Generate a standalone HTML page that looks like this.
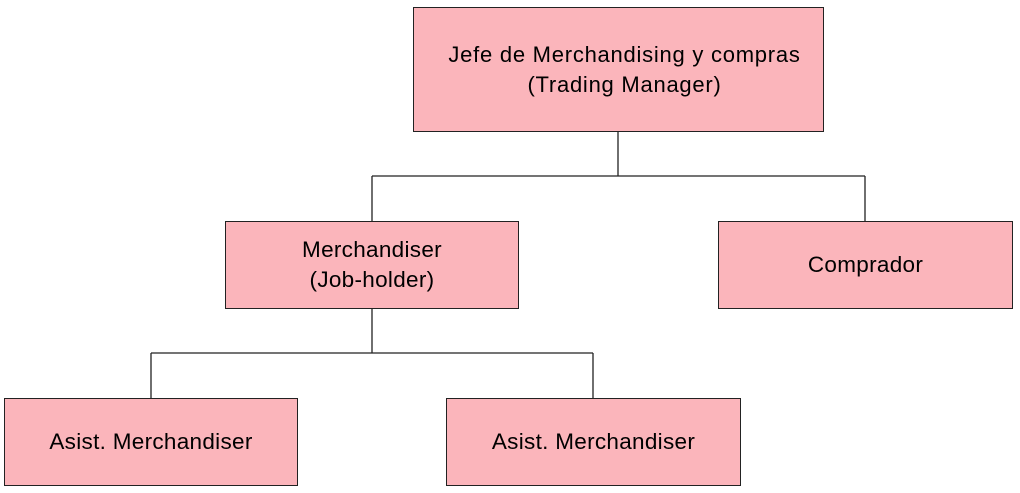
<!DOCTYPE html>
<html><head><meta charset="utf-8"><style>
html,body{margin:0;padding:0;background:#fff;}
body{width:1020px;height:493px;position:relative;overflow:hidden;font-family:"Liberation Sans",sans-serif;}
.b{position:absolute;background:#fbb5bb;border:1.5px solid #222;box-sizing:border-box;display:flex;align-items:center;justify-content:center;text-align:center;font-size:22.5px;line-height:30px;color:#000;letter-spacing:0.3px;}
</style></head><body>
<svg width="1020" height="493" style="position:absolute;left:0;top:0">
<g stroke="#222" stroke-width="1.3" fill="none">
<path d="M618 131V176M372 176H865M372 176V221M865 176V221"/>
<path d="M372 308V353M151 353H593M151 353V398M593 353V398"/>
</g></svg>
<div class="b" style="left:413px;top:7px;width:411px;height:125px;font-size:22px;letter-spacing:0.75px;padding-left:12px">Jefe de Merchandising y compras<br>(Trading Manager)</div>
<div class="b" style="left:225px;top:221px;width:294px;height:88px">Merchandiser<br>(Job-holder)</div>
<div class="b" style="left:718px;top:221px;width:295px;height:88px">Comprador</div>
<div class="b" style="left:4px;top:398px;width:294px;height:88px">Asist. Merchandiser</div>
<div class="b" style="left:446px;top:398px;width:295px;height:88px">Asist. Merchandiser</div>
</body></html>
